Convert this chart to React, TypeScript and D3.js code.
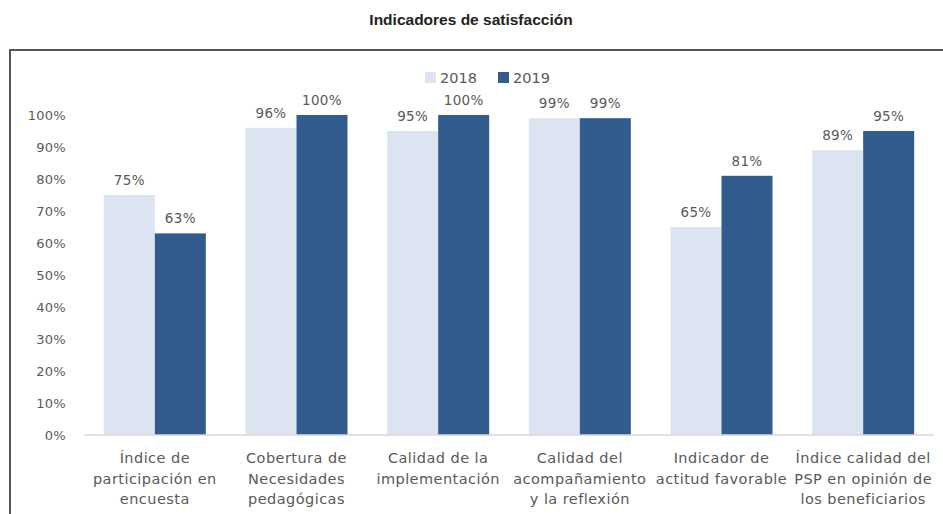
import React from "react";
import * as d3 from "d3";

const categories: string[][] = [
  ["Índice de", "participación en", "encuesta"],
  ["Cobertura de", "Necesidades", "pedagógicas"],
  ["Calidad de la", "implementación"],
  ["Calidad del", "acompañamiento", "y la reflexión"],
  ["Indicador de", "actitud favorable"],
  ["Índice calidad del", "PSP en opinión de", "los beneficiarios"],
];
const series = ["2018", "2019"];
const values2018 = [75, 96, 95, 99, 65, 89];
const values2019 = [63, 100, 100, 99, 81, 95];
const yTicks = [0, 10, 20, 30, 40, 50, 60, 70, 80, 90, 100];
const colors = ["#dbe4f0", "#325c8e"];

const W = 943;
const H = 514;
const FONT = "'DejaVu Sans', 'Liberation Sans', sans-serif";
const TXT = "#595959";

export default function App() {
  const x0 = d3
    .scaleBand<number>()
    .domain(d3.range(categories.length))
    .range([84, 934])
    .paddingInner(0.28)
    .paddingOuter(0.14);
  const x1 = d3.scaleBand<string>().domain(series).range([0, x0.bandwidth()]);
  const y = d3.scaleLinear().domain([0, 100]).range([435, 115]);
  const data = [values2018, values2019];

  return (
    <svg
      width={W}
      height={H}
      style={{ position: "absolute", left: 0, top: 0, background: "#fff" }}
      fontFamily={FONT}
    >
      <rect x={0} y={0} width={W} height={H} fill="#fff" />
      <text
        x={471}
        y={25}
        textAnchor="middle"
        fontSize={15.5}
        fontWeight="bold"
        fill="#222"
        fontFamily="'Liberation Sans', Arial, sans-serif"
      >
        Indicadores de satisfacción
      </text>
      <rect x={10} y={50} width={945} height={480} fill="none" stroke="#555" strokeWidth={2} />

      {/* legend */}
      {series.map((s, i) => (
        <g key={s} transform={`translate(${425 + i * 73},72)`}>
          <rect x={0} y={0} width={11} height={11} fill={colors[i]} />
          <text x={15} y={11} fontSize={14.5} fill={TXT}>
            {s}
          </text>
        </g>
      ))}

      {/* y axis labels */}
      {yTicks.map((t) => (
        <text key={t} x={66} y={y(t) + 5} textAnchor="end" fontSize={13} letterSpacing={0.3} fill={TXT}>
          {t}%
        </text>
      ))}

      {/* bars */}
      {categories.map((_, ci) => (
        <g key={ci} transform={`translate(${x0(ci)},0)`}>
          {series.map((s, si) => {
            const v = data[si][ci];
            const bx = x1(s)!;
            const bw = x1.bandwidth();
            return (
              <g key={s}>
                <rect x={bx} y={y(v)} width={bw} height={y(0) - y(v)} fill={colors[si]} />
                <text
                  x={bx + bw / 2}
                  y={y(v) - 10}
                  textAnchor="middle"
                  fontSize={13.5}
                  letterSpacing={0.3}
                  fill={TXT}
                >
                  {v}%
                </text>
              </g>
            );
          })}
        </g>
      ))}

      {/* baseline */}
      <line x1={84} x2={934} y1={y(0)} y2={y(0)} stroke="#d9d9d9" strokeWidth={1.5} />

      {/* category labels */}
      {categories.map((lines, ci) => (
        <text
          key={ci}
          x={x0(ci)! + x0.bandwidth() / 2}
          textAnchor="middle"
          fontSize={14.5}
          letterSpacing={0.45}
          fill={TXT}
        >
          {lines.map((l, li) => (
            <tspan key={li} x={x0(ci)! + x0.bandwidth() / 2} y={463 + li * 20.5}>
              {l}
            </tspan>
          ))}
        </text>
      ))}
    </svg>
  );
}
